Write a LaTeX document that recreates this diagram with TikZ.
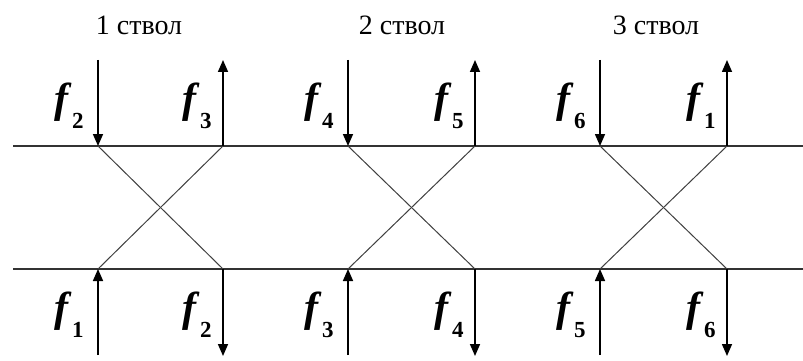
\documentclass[tikz,border=0pt]{standalone}
\usepackage{fontspec}
\setmainfont{Liberation Serif}
\usetikzlibrary{arrows.meta}
\newcommand{\flab}[1]{{\fontsize{42}{42}\selectfont\bfseries\itshape f}\kern4pt\raisebox{-16pt}{\fontsize{23}{23}\selectfont\bfseries #1}}
\tikzset{
  rail/.style={line width=2.6pt, draw=black!80},
  cross/.style={line width=1pt, draw=black!75},
  flow/.style={line width=1.6pt, -{Triangle[length=12pt,width=10pt]}},
  flabel/.style={anchor=base west, inner sep=0pt},
  title/.style={anchor=base, inner sep=0pt, font=\fontsize{28}{28}\selectfont}
}
\begin{document}
\begin{tikzpicture}[x=1pt,y=-1pt]
\useasboundingbox[fill=white] (0,0) rectangle (803,361);
% rails
\coordinate (tl) at (13,146); \coordinate (tr) at (803,146);
\coordinate (bl) at (13,269); \coordinate (br) at (803,269);
\draw[rail] (tl) -- (tr);
\draw[rail] (bl) -- (br);
% groups
\foreach \g/\xl/\xr/\tx/\a/\b/\c/\d in {1/98/223/139/2/3/1/2, 2/348/475/402/4/5/3/4, 3/600/727/656/6/1/5/6}{
  \coordinate (ta\g) at (\xl,60);  \coordinate (tp\g) at (\xl,146);
  \coordinate (tb\g) at (\xr,60);  \coordinate (tq\g) at (\xr,146);
  \coordinate (ba\g) at (\xl,355); \coordinate (bp\g) at (\xl,269);
  \coordinate (bb\g) at (\xr,356); \coordinate (bq\g) at (\xr,269);
  \draw[cross] (tp\g) -- (bq\g);
  \draw[cross] (tq\g) -- (bp\g);
  \draw[flow] (ta\g) -- (tp\g);
  \draw[flow] (tq\g) -- (tb\g);
  \draw[flow] (ba\g) -- (bp\g);
  \draw[flow] (bq\g) -- (bb\g);
  \node[title] (title\g) at (\tx,35) {\g{} ствол};
  \node[flabel] (la\g) at (\xl-44,112) {\flab{\a}};
  \node[flabel] (lb\g) at (\xr-41,112) {\flab{\b}};
  \node[flabel] (lc\g) at (\xl-44,321) {\flab{\c}};
  \node[flabel] (ld\g) at (\xr-41,321) {\flab{\d}};
}
\end{tikzpicture}
\end{document}
